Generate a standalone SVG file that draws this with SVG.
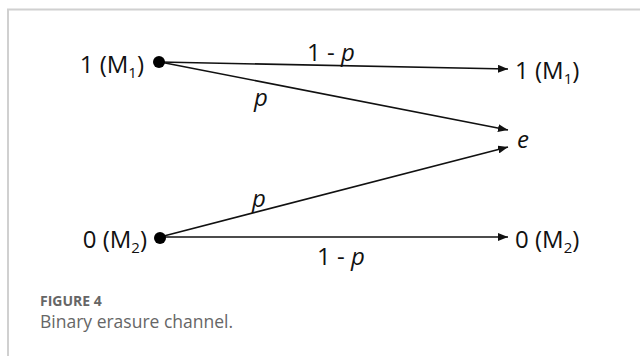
<svg xmlns="http://www.w3.org/2000/svg" width="640" height="356" viewBox="0 0 640 356">
<style>
.lbl{font-family:"Open Sans","Liberation Sans",sans-serif;font-size:24px;fill:#111}
.sub{font-size:15px}
.it{font-style:italic}
.edge{stroke:#111;stroke-width:1.6;fill:none}
.cap1{font-family:"Open Sans","Liberation Sans",sans-serif;font-size:14px;font-weight:bold;fill:#666}
.cap2{font-family:"Open Sans","Liberation Sans",sans-serif;font-size:17.5px;fill:#666}
</style>
<defs>
<marker id="arr" viewBox="0 0 10 8" refX="10" refY="4" markerWidth="10" markerHeight="8" markerUnits="userSpaceOnUse" orient="auto">
<path d="M0,0 L10,4 L0,8 Z" fill="#111"/>
</marker>
</defs>
<rect width="640" height="356" fill="#fff"/>
<path d="M8,356 V9.5 H640" stroke="#d0d0d0" stroke-width="2" fill="none"/>
<g id="connectors">
<line class="edge" x1="160" y1="62" x2="508" y2="69" marker-end="url(#arr)"/>
<line class="edge" x1="160" y1="62" x2="508" y2="130" marker-end="url(#arr)"/>
<line class="edge" x1="160" y1="237" x2="508" y2="147" marker-end="url(#arr)"/>
<line class="edge" x1="160" y1="237" x2="508" y2="237" marker-end="url(#arr)"/>
<text class="lbl" x="331" y="61" text-anchor="middle">1 - <tspan class="it">p</tspan></text>
<text class="lbl it" x="261" y="106" text-anchor="middle">p</text>
<text class="lbl it" x="259" y="207" text-anchor="middle">p</text>
<text class="lbl" x="341" y="265" text-anchor="middle">1 - <tspan class="it">p</tspan></text>
</g>
<g id="in1">
<circle cx="159" cy="62" r="6" fill="#000"/>
<text class="lbl" x="144" y="73" text-anchor="end">1 (M<tspan class="sub" dy="5">1</tspan><tspan dy="-5">)</tspan></text>
</g>
<g id="in0">
<circle cx="160" cy="238" r="6" fill="#000"/>
<text class="lbl" x="147" y="248" text-anchor="end">0 (M<tspan class="sub" dy="5">2</tspan><tspan dy="-5">)</tspan></text>
</g>
<g id="out1">
<text class="lbl" x="515" y="79">1 (M<tspan class="sub" dy="5">1</tspan><tspan dy="-5">)</tspan></text>
</g>
<g id="oute">
<text class="lbl it" x="517" y="148">e</text>
</g>
<g id="out0">
<text class="lbl" x="515" y="248">0 (M<tspan class="sub" dy="5">2</tspan><tspan dy="-5">)</tspan></text>
</g>
<text class="cap1" x="40" y="306">FIGURE 4</text>
<text class="cap2" x="40" y="328">Binary erasure channel.</text>
</svg>
